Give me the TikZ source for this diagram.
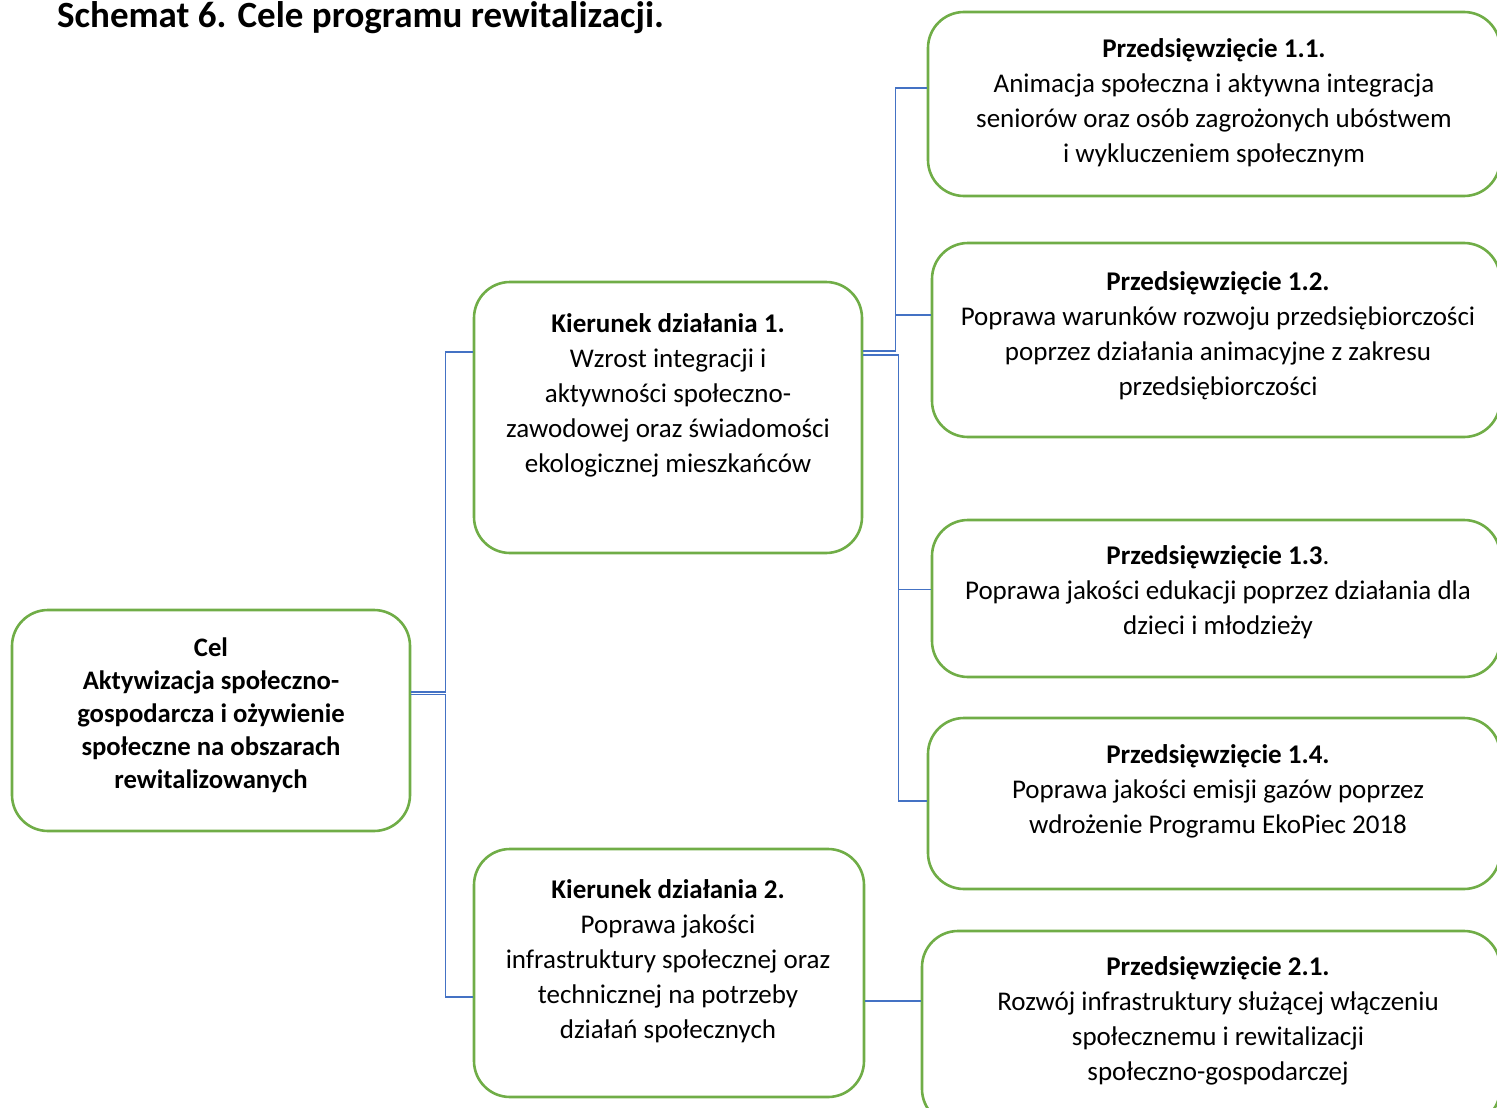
\documentclass[tikz,border=0pt]{standalone}
\usepackage{fontspec}
\setmainfont{Carlito}
\usepackage{tikz}
\usetikzlibrary{positioning}

\definecolor{kgreen}{HTML}{70AD47}
\definecolor{kblue}{HTML}{4472C4}

\begin{document}
\begin{tikzpicture}[
    x=1pt, y=-1pt,
    font=\fontsize{27}{35}\selectfont,
    box/.style={draw=kgreen, line width=2.6pt, rounded corners=36pt, inner sep=0pt},
    txt/.style={align=center, inner sep=0pt},
    conn/.style={draw=kblue, line width=1.5pt},
  ]
    \useasboundingbox (0,0) rectangle (1497,1108);

    \node[anchor=west, inner sep=0pt, font=\fontsize{37}{40}\selectfont\bfseries] (title) at (57,18)
      {Schemat 6. Cele programu rewitalizacji.};

    % boxes
    \node[box, minimum width=398, minimum height=221] (cel) at (211,720.5) {};
    \node[box, minimum width=388, minimum height=271] (k1)  at (668,417.5) {};
    \node[box, minimum width=390, minimum height=248] (k2)  at (669,973) {};
    \node[box, minimum width=572, minimum height=184] (p11) at (1214,104) {};
    \node[box, minimum width=568, minimum height=194] (p12) at (1216,340) {};
    \node[box, minimum width=568, minimum height=157] (p13) at (1216,598.5) {};
    \node[box, minimum width=572, minimum height=171] (p14) at (1214,803.5) {};
    \node[box, minimum width=578, minimum height=194] (p21) at (1211,1028) {};

    % texts
    \node[txt, font=\fontsize{26.7}{33}\selectfont\bfseries] (celtxt) at (211,715)
      {Cel\\Aktywizacja społeczno-\\gospodarcza i ożywienie\\społeczne na obszarach\\rewitalizowanych};
    \node[txt] (k1txt) at (668,395)
      {\textbf{Kierunek działania 1.}\\Wzrost integracji i\\aktywności społeczno-\\zawodowej oraz świadomości\\ekologicznej mieszkańców};
    \node[txt] (k2txt) at (668,961)
      {\textbf{Kierunek działania 2.}\\Poprawa jakości\\infrastruktury społecznej oraz\\technicznej na potrzeby\\działań społecznych};
    \node[txt] (p11txt) at (1214,103)
      {\textbf{Przedsięwzięcie 1.1.}\\Animacja społeczna i aktywna integracja\\seniorów oraz osób zagrożonych ubóstwem\\i wykluczeniem społecznym};
    \node[txt] (p12txt) at (1218,335.5)
      {\textbf{Przedsięwzięcie 1.2.}\\Poprawa warunków rozwoju przedsiębiorczości\\poprzez działania animacyjne z zakresu\\przedsiębiorczości};
    \node[txt] (p13txt) at (1218,592)
      {\textbf{Przedsięwzięcie 1.3}.\\Poprawa jakości edukacji poprzez działania dla\\dzieci i młodzieży};
    \node[txt] (p14txt) at (1218,791)
      {\textbf{Przedsięwzięcie 1.4.}\\Poprawa jakości emisji gazów poprzez\\wdrożenie Programu EkoPiec 2018};
    \node[txt] (p21txt) at (1218,1021)
      {\textbf{Przedsięwzięcie 2.1.}\\Rozwój infrastruktury służącej włączeniu\\społecznemu i rewitalizacji\\społeczno-gospodarczej};

    % connectors
    \draw[conn] ([yshift=28.5pt]cel.east) -- ++(34,0) |- ([yshift=65.5pt]k1.west);
    \draw[conn] ([yshift=26pt]cel.east) -- ++(34,0) |- ([yshift=-24pt]k2.west);
    \draw[conn] ([yshift=66.5pt]k1.east) -- ++(32,0) |- ([yshift=16pt]p11.west);
    \draw[conn] ([yshift=66.5pt]k1.east) -- ++(32,0) |- ([yshift=25pt]p12.west);
    \draw[conn] ([yshift=62.5pt]k1.east) -- ++(35,0) |- ([yshift=9pt]p13.west);
    \draw[conn] ([yshift=62.5pt]k1.east) -- ++(35,0) |- ([yshift=2.5pt]p14.west);
    \draw[conn] ([yshift=-28pt]k2.east) -- ([yshift=27pt]p21.west);
\end{tikzpicture}
\end{document}
